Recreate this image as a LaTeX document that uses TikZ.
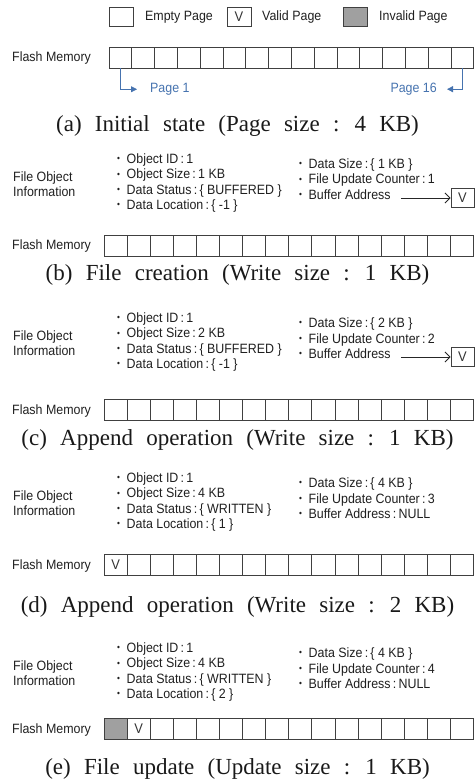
\documentclass[tikz,border=0pt]{standalone}
\usepackage{fontspec}
\usetikzlibrary{arrows.meta}
\newfontfamily\sffont{Liberation Sans}[FakeStretch=0.92]
\newfontfamily\capfont{Liberation Serif}[WordSpace=2.3]
\definecolor{invalidgray}{RGB}{160,160,160}
\definecolor{pageblue}{RGB}{70,115,175}
\newcommand{\bul}{\makebox[9.5pt][l]{\raisebox{1.8pt}{\fontsize{9}{9}\selectfont\textbullet}}}
\tikzset{
  lbl/.style={font=\sffont\fontsize{13.5}{15}\selectfont, text=black!88, anchor=base west, inner sep=0pt},
  cell/.style={draw=black!75, line width=0.9pt, minimum width=23.1pt, minimum height=21pt, inner sep=0pt, font=\sffont\fontsize{14}{14}\selectfont, text=black!80},
  acell/.style={cell, minimum width=22.8pt},
  vbox/.style={cell, minimum width=23pt, minimum height=19pt},
  legbox/.style={cell, minimum width=24pt, minimum height=19pt},
  capline/.style={font=\capfont\fontsize{23}{25}\selectfont, text=black!90, inner sep=0pt, anchor=base},
  pagearrow/.style={pageblue, line width=0.8pt, -{Triangle[length=6pt,width=6pt]}},
  bufarrow/.style={black!85, line width=0.8pt, -{Straight Barb[length=5pt,width=10pt]}}
}
\begin{document}
\begin{tikzpicture}[x=1pt,y=-1pt]
	\useasboundingbox (0,0) rectangle (475,783);
	%Legend
	\node[legbox] (lgE) at (121,16.5) {};
	\node[lbl] (lgEt) at (145,21) {Empty Page};
	\node[legbox] (lgV) at (239,16.5) {V};
	\node[lbl] (lgVt) at (262,21) {Valid Page};
	\node[legbox, fill=invalidgray] (lgI) at (355.5,16.5) {};
	\node[lbl] (lgIt) at (379,21) {Invalid Page};
	%(a) Initial state
	\node[lbl] (fma) at (12,62) {Flash Memory};
	\foreach \i in {1,...,16} \node[acell] (a\i) at ({109+22.8*(\i-0.5)},57.5) {};
	\node[lbl, text=pageblue] (p1) at (150,92.5) {Page 1};
	\node[lbl, text=pageblue, anchor=base east] (p16) at (437,92.5) {Page 16};
	\draw[pagearrow, shorten >=13pt] (a1.south) |- (p1.west);
	\draw[pagearrow, shorten >=10pt] (a16.south) |- (p16.east);
	\node[capline] (ca) at (237.5,132) {(a) Initial state (Page size : 4 KB)};
	%(b) File creation
	\node[lbl] (fob) at (13,181.5) {File Object};
	\node[lbl] (iob) at (13,196.5) {Information};
	\foreach \t [count=\i] in {Object ID\,:\,1, Object Size\,:\,1 KB, Data Status\,:\,\{ BUFFERED \}, Data Location\,:\,\{ -1 \}}
		\node[lbl] (bl\i) at (117,{163.5+15.4*(\i-1)}) {\bul\t};
	\foreach \t [count=\i] in {Data Size\,:\,\{ 1 KB \}, File Update Counter\,:\,1, Buffer Address}
		\node[lbl] (br\i) at (299,{168.5+15.5*(\i-1)}) {\bul\t};
	\node[vbox] (bv) at (462.5,198) {V};
	\draw[bufarrow, shorten <=10pt] (br3.east |- bv.west) -- (bv.west);
	\node[lbl] (fmb) at (12,250) {Flash Memory};
	\foreach \i in {1,...,16} \node[cell] (b\i) at ({104+23.1*(\i-0.5)},245.5) {};
	\node[capline] (cb) at (237.5,280) {(b) File creation (Write size : 1 KB)};
	%(c) Append operation
	\node[lbl] (foc) at (13,340.5) {File Object};
	\node[lbl] (ioc) at (13,355.5) {Information};
	\foreach \t [count=\i] in {Object ID\,:\,1, Object Size\,:\,2 KB, Data Status\,:\,\{ BUFFERED \}, Data Location\,:\,\{ -1 \}}
		\node[lbl] (cl\i) at (117,{322.5+15.4*(\i-1)}) {\bul\t};
	\foreach \t [count=\i] in {Data Size\,:\,\{ 2 KB \}, File Update Counter\,:\,2, Buffer Address}
		\node[lbl] (cr\i) at (299,{327.5+15.5*(\i-1)}) {\bul\t};
	\node[vbox] (cv) at (462.5,357) {V};
	\draw[bufarrow, shorten <=10pt] (cr3.east |- cv.west) -- (cv.west);
	\node[lbl] (fmc) at (12,414) {Flash Memory};
	\foreach \i in {1,...,16} \node[cell] (c\i) at ({104+23.1*(\i-0.5)},409.5) {};
	\node[capline] (cc) at (237.5,445) {(c) Append operation (Write size : 1 KB)};
	%(d) Append operation
	\node[lbl] (fod) at (13,500.5) {File Object};
	\node[lbl] (iod) at (13,515.5) {Information};
	\foreach \t [count=\i] in {Object ID\,:\,1, Object Size\,:\,4 KB, Data Status\,:\,\{ WRITTEN \}, Data Location\,:\,\{ 1 \}}
		\node[lbl] (dl\i) at (117,{482.5+15.4*(\i-1)}) {\bul\t};
	\foreach \t [count=\i] in {Data Size\,:\,\{ 4 KB \}, File Update Counter\,:\,3, Buffer Address\,:\,NULL}
		\node[lbl] (dr\i) at (299,{487.5+15.5*(\i-1)}) {\bul\t};
	\node[lbl] (fmd) at (12,569) {Flash Memory};
	\node[cell] (d1) at (115.55,564.5) {V};
	\foreach \i in {2,...,16} \node[cell] (d\i) at ({104+23.1*(\i-0.5)},564.5) {};
	\node[capline] (cd) at (237.5,612.5) {(d) Append operation (Write size : 2 KB)};
	%(e) File update
	\node[lbl] (foe) at (13,670.5) {File Object};
	\node[lbl] (ioe) at (13,685.5) {Information};
	\foreach \t [count=\i] in {Object ID\,:\,1, Object Size\,:\,4 KB, Data Status\,:\,\{ WRITTEN \}, Data Location\,:\,\{ 2 \}}
		\node[lbl] (el\i) at (117,{652.5+15.4*(\i-1)}) {\bul\t};
	\foreach \t [count=\i] in {Data Size\,:\,\{ 4 KB \}, File Update Counter\,:\,4, Buffer Address\,:\,NULL}
		\node[lbl] (er\i) at (299,{657.5+15.5*(\i-1)}) {\bul\t};
	\node[lbl] (fme) at (12,733) {Flash Memory};
	\node[cell, fill=invalidgray] (e1) at (115.55,728.5) {};
	\node[cell] (e2) at (138.65,728.5) {V};
	\foreach \i in {3,...,16} \node[cell] (e\i) at ({104+23.1*(\i-0.5)},728.5) {};
	\node[capline] (ce) at (237.5,774) {(e) File update (Update size : 1 KB)};
\end{tikzpicture}
\end{document}
